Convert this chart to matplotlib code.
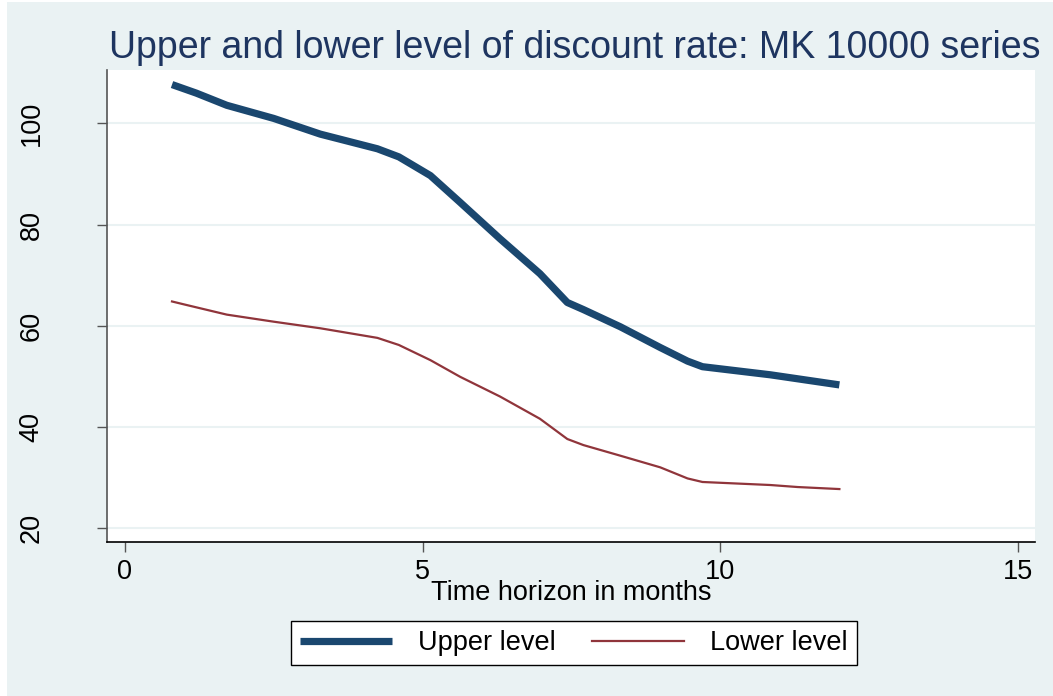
import matplotlib
matplotlib.use('Agg')
import matplotlib.pyplot as plt
from matplotlib.patches import Rectangle

plt.rcParams['font.family'] = ['Liberation Sans', 'DejaVu Sans']

# horizon (months) and discount rate levels
months_upper = [0.79, 1.2, 1.71, 2.5, 3.28, 4.24, 4.6, 5.13, 5.63, 6.3, 6.97,
                7.43, 7.7, 8.32, 8.99, 9.45, 9.7, 10.84, 12.0]
upper = [107.7, 106.0, 103.6, 101.0, 97.9, 95.0, 93.4, 89.7, 84.4, 77.2, 70.3,
         64.6, 63.2, 59.8, 55.7, 53.0, 51.9, 50.3, 48.3]

months_lower = [0.79, 1.0, 1.71, 2.5, 3.28, 4.24, 4.6, 5.13, 5.63, 6.3, 6.97,
                7.43, 7.7, 8.32, 8.99, 9.45, 9.7, 10.84, 11.3, 12.0]
lower = [64.8, 64.2, 62.2, 60.8, 59.5, 57.6, 56.2, 53.2, 49.9, 46.0, 41.6,
         37.6, 36.4, 34.3, 32.0, 29.8, 29.1, 28.5, 28.1, 27.7]

x_ticks = [0, 5, 10, 15]
y_ticks = [20, 40, 60, 80, 100]

bg = '#eaf2f3'
navy = '#1a476f'
maroon = '#90353b'

W, H = 1053, 696
fig = plt.figure(figsize=(W / 100, H / 100), dpi=100, facecolor='white')
fig.patches.append(Rectangle((7 / W, 0), 1, 1 - 2 / H, transform=fig.transFigure,
                             facecolor=bg, edgecolor='none', zorder=-10))

ax = fig.add_axes([107 / W, 1 - 542 / H, (1035 - 107) / W, (542 - 70) / H])
ax.set_facecolor('white')

ax.plot(months_upper, upper, color=navy, lw=5.2, label='Upper level',
        solid_capstyle='butt')
ax.plot(months_lower, lower, color=maroon, lw=1.6, label='Lower level')

ax.set_xlim(-0.302, 15.286)
ax.set_ylim(17.23, 110.58)
ax.set_xticks(x_ticks)
ax.set_yticks(y_ticks)
ax.grid(axis='y', color=bg, lw=1.5)
ax.set_axisbelow(True)

for s in ['top', 'right']:
    ax.spines[s].set_visible(False)
ax.spines['left'].set_color('#555555')
ax.spines['left'].set_linewidth(1.2)
ax.spines['bottom'].set_color('black')
ax.spines['bottom'].set_linewidth(1.2)

ax.tick_params(axis='x', length=7, width=1, color='#555555', labelsize=19.5, pad=5)
ax.tick_params(axis='y', length=7, width=1, color='#555555', labelsize=19.5, pad=38)
for lab in ax.get_yticklabels():
    lab.set_rotation(90)
    lab.set_va('center')

ax.set_xlabel('Time horizon in months', fontsize=19.5, labelpad=-3)
fig.text(575 / W, 1 - 48 / H, 'Upper and lower level of discount rate: MK 10000 series',
         ha='center', va='center', fontsize=27, color='#1e3560')

fig.legend(loc='center', bbox_to_anchor=(574 / W, 1 - 643 / H), ncol=2,
           fontsize=19.5, frameon=True, fancybox=False, edgecolor='black',
           framealpha=1, handlelength=3.4, handletextpad=0.95,
           columnspacing=1.35, borderpad=0.35, borderaxespad=0)

fig.savefig('out.png', dpi=100, facecolor=fig.get_facecolor())
